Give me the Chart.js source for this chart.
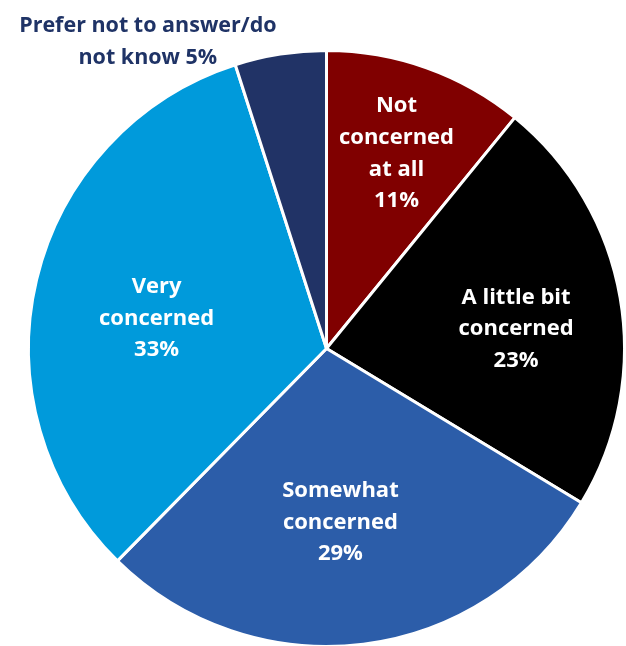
<!DOCTYPE html>
<html>
<head>
<meta charset="utf-8">
<script src="https://cdn.jsdelivr.net/npm/chart.js@4.4.0/dist/chart.umd.min.js"></script>
<style>
html,body{margin:0;padding:0;background:#fff;overflow:hidden;}
#wrap{width:626px;height:648px;}
</style>
</head>
<body>
<div id="wrap"><canvas id="c" width="626" height="648"></canvas></div>
<script>
const categories = ["Not concerned at all", "A little bit concerned", "Somewhat concerned", "Very concerned", "Prefer not to answer/do not know"];
const values = [11, 23, 29, 33, 5];
const labelLines = [["Not", "concerned", "at all"], ["A little bit", "concerned"], ["Somewhat", "concerned"], ["Very", "concerned"], ["Prefer not to answer/do", "not know"]];
const colors = ["#800000", "#000000", "#2C5DA9", "#009ADB", "#213366"];
const textColors = ["#ffffff", "#ffffff", "#ffffff", "#ffffff", "#1F3366"];
// label placement: fraction of radius, angle shift (deg) from slice middle; last one sits outside
const labelRadius = [0.70, 0.64, 0.58, 0.58, 1.195];
const labelShift = [0, 3.5, 2.5, -2.8, -21.2];
const percentInline = [false, false, false, false, true];

const labelPlugin = {
  id: 'sliceLabels',
  afterDatasetsDraw(chart) {
    const ctx = chart.ctx;
    const meta = chart.getDatasetMeta(0);
    const lh = 31.7;
    ctx.save();
    ctx.textAlign = 'center';
    ctx.textBaseline = 'alphabetic';
    meta.data.forEach((arc, i) => {
      const p = arc.getProps(['x', 'y', 'startAngle', 'endAngle', 'outerRadius'], true);
      const mid = (p.startAngle + p.endAngle) / 2 + labelShift[i] * Math.PI / 180;
      const r = p.outerRadius * labelRadius[i];
      const cx = p.x + Math.cos(mid) * r;
      const cy = p.y + Math.sin(mid) * r;
      const pct = values[i] + '%';
      let lines = labelLines[i].slice();
      if (percentInline[i]) lines[lines.length - 1] += ' ' + pct; else lines.push(pct);
      const n = lines.length;
      ctx.font = percentInline[i] ? 'bold 21.5px "Open Sans"' : 'bold 22px "Open Sans"';
      ctx.fillStyle = textColors[i];
      lines.forEach((t, k) => {
        const y = cy + (k - (n - 1) / 2) * lh + 7.8;
        ctx.fillText(t, cx, y);
      });
    });
    ctx.restore();
  }
};

new Chart(document.getElementById('c'), {
  type: 'pie',
  data: {
    labels: categories,
    datasets: [{
      data: values,
      backgroundColor: colors,
      borderColor: '#ffffff',
      borderWidth: 3
    }]
  },
  options: {
    responsive: false,
    animation: false,
    layout: { padding: { left: 27, right: 0, top: 49, bottom: 0 } },
    plugins: { legend: { display: false }, tooltip: { enabled: false } }
  },
  plugins: [labelPlugin]
});
</script>
</body>
</html>
